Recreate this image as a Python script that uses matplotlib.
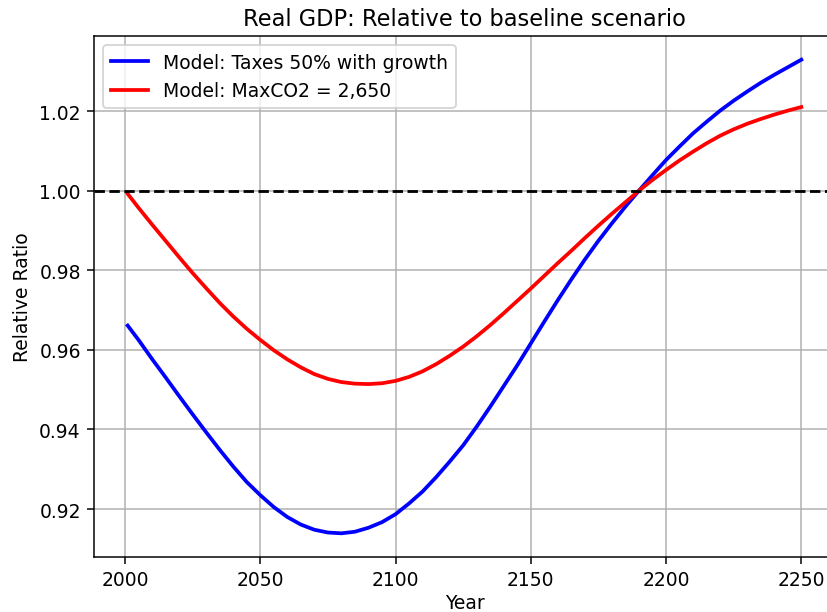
import numpy as np
import matplotlib.pyplot as plt

years = [2001, 2005, 2010, 2015, 2020, 2025, 2030, 2035, 2040, 2045,
         2050, 2055, 2060, 2065, 2070, 2075, 2080, 2085, 2090, 2095,
         2100, 2105, 2110, 2115, 2120, 2125, 2130, 2135, 2140, 2145,
         2150, 2155, 2160, 2165, 2170, 2175, 2180, 2185, 2190, 2195,
         2200, 2205, 2210, 2215, 2220, 2225, 2230, 2235, 2240, 2245, 2250]

taxes_growth = [0.9661, 0.9625, 0.9577, 0.9531, 0.9484, 0.9438, 0.9393, 0.9349,
                0.9307, 0.9268, 0.9235, 0.9205, 0.9180, 0.9161, 0.9148, 0.9141,
                0.9139, 0.9143, 0.9153, 0.9167, 0.9187, 0.9214, 0.9244, 0.9280,
                0.9319, 0.9360, 0.9407, 0.9457, 0.9509, 0.9561, 0.9616, 0.9671,
                0.9725, 0.9777, 0.9827, 0.9874, 0.9918, 0.9960, 1.0000, 1.0039,
                1.0077, 1.0111, 1.0144, 1.0173, 1.0201, 1.0226, 1.0249, 1.0271,
                1.0291, 1.0310, 1.0329]

maxco2 = [0.9992, 0.9957, 0.9915, 0.9874, 0.9833, 0.9793, 0.9755, 0.9718,
          0.9684, 0.9653, 0.9625, 0.9599, 0.9576, 0.9556, 0.9539, 0.9527,
          0.9519, 0.9515, 0.9514, 0.9516, 0.9522, 0.9532, 0.9546, 0.9564,
          0.9585, 0.9608, 0.9634, 0.9662, 0.9692, 0.9723, 0.9754, 0.9786,
          0.9818, 0.9849, 0.9881, 0.9912, 0.9942, 0.9971, 1.0000, 1.0027,
          1.0052, 1.0076, 1.0098, 1.0119, 1.0138, 1.0154, 1.0168, 1.0180,
          1.0191, 1.0201, 1.0210]

W, H = 827, 613
DPI = 135
fig = plt.figure(figsize=(W / DPI, H / DPI), dpi=DPI)
ax = fig.add_axes([94 / W, (H - 558) / H, (835 - 94) / W, (558 - 37) / H])

ax.plot(years, taxes_growth, color='blue', lw=2, label="Model: Taxes 50% with growth")
ax.plot(years, maxco2, color='red', lw=2, label="Model: MaxCO2 = 2,650")
ax.axhline(1.0, color='black', linestyle='--', lw=1.5)

ax.set_title("Real GDP: Relative to baseline scenario", fontsize=12)
ax.set_xlabel("Year", labelpad=2)
ax.set_ylabel("Relative Ratio")
ax.set_xticks([2000, 2050, 2100, 2150, 2200, 2250])
ax.set_yticks([0.92, 0.94, 0.96, 0.98, 1.00, 1.02])
ax.legend(loc='upper left')
ax.grid()

fig.savefig("out.png", dpi=DPI)
